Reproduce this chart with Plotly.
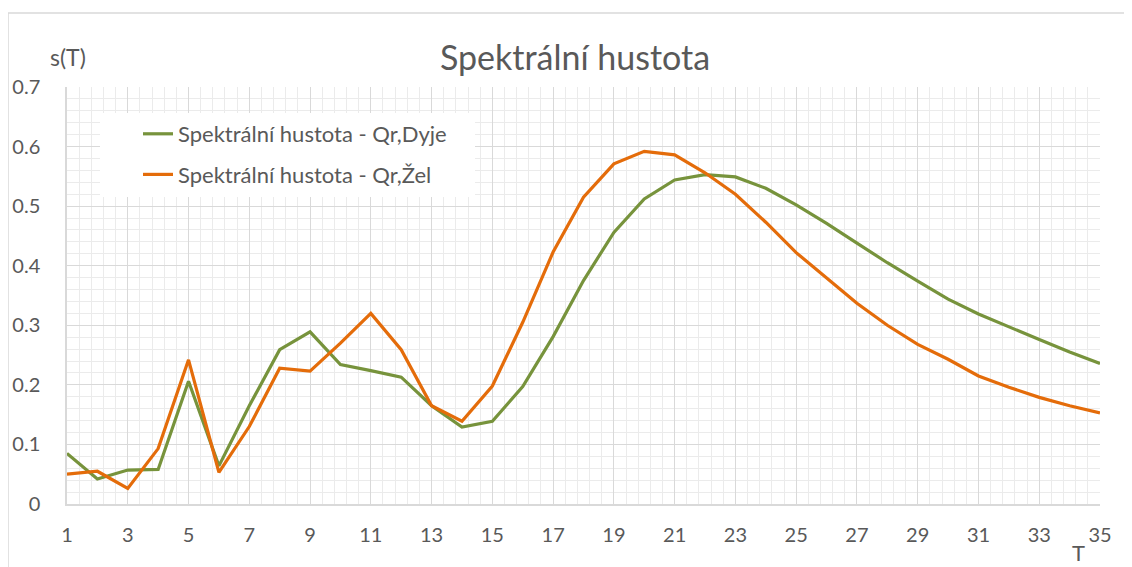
import plotly.graph_objects as go

T = list(range(1, 36))
dyje = [0.085, 0.042, 0.057, 0.058, 0.206, 0.064, 0.165, 0.259, 0.289, 0.234,
        0.224, 0.213, 0.165, 0.129, 0.139, 0.197, 0.281, 0.375, 0.456, 0.512,
        0.544, 0.553, 0.549, 0.530, 0.502, 0.471, 0.438, 0.405, 0.374, 0.344,
        0.319, 0.297, 0.276, 0.255, 0.236]
zel = [0.050, 0.055, 0.026, 0.093, 0.242, 0.053, 0.130, 0.228, 0.223, 0.270,
       0.320, 0.259, 0.165, 0.139, 0.198, 0.305, 0.423, 0.515, 0.571, 0.592,
       0.586, 0.556, 0.520, 0.473, 0.422, 0.379, 0.337, 0.300, 0.268, 0.243,
       0.215, 0.196, 0.179, 0.165, 0.153]
names = ["Spektrální hustota - Qr,Dyje", "Spektrální hustota - Qr,Žel"]
colors = ["#77933C", "#E46C0A"]
XR = [1, 35]
YR = [0, 0.7]

# page has an 8px body margin; work in reference-page pixels and shift
O = 8
W, H = 1132 - O, 567 - O
L, TOP = 67 - O, 87 - O
PR, PB = 1100 - O, 504 - O
R, B = W - PR, H - PB
pw, ph = PR - L, PB - TOP
def px(x):
    return (x - O - L) / pw
def py(y):
    return (PB - (y - O)) / ph
def dx(x):
    return XR[0] + px(x) * (XR[1] - XR[0])
def dy(y):
    return YR[0] + py(y) * (YR[1] - YR[0])

txt = "#595959"
font = "Lato, 'Open Sans', sans-serif"

fig = go.Figure()
for i, (ser, nm) in enumerate(zip([dyje, zel], names)):
    fig.add_trace(go.Scatter(x=T, y=ser, mode="lines", name=nm,
                             legendgroup=str(i),
                             line=dict(color=colors[i], width=3.2)))

fig.update_layout(
    width=W, height=H,
    margin=dict(l=L, r=R, t=TOP, b=B, autoexpand=False),
    paper_bgcolor="white", plot_bgcolor="white",
    font=dict(family=font, color=txt, size=20),
    title=dict(text="Spektrální hustota", x=(575 - O) / W, xanchor="center",
               y=1 - (58 - O) / H, yanchor="middle",
               font=dict(size=34, color=txt, family=font)),
    showlegend=True,
    legend=dict(x=px(138), y=py(113), xanchor="left", yanchor="top",
                bgcolor="rgba(255,255,255,0)", borderwidth=0, tracegroupgap=9,
                font=dict(size=22, color=txt, family=font)),
    xaxis=dict(range=XR, tick0=1, dtick=2, showgrid=True,
               gridcolor="#d9d9d9", gridwidth=1, zeroline=False,
               showline=True, linecolor="#d9d9d9", linewidth=1.5,
               ticks="", ticklabelstandoff=12, automargin=False,
               tickfont=dict(size=20, color=txt),
               minor=dict(tick0=1, dtick=0.4, showgrid=True,
                          gridcolor="#ebebeb", gridwidth=1)),
    yaxis=dict(range=YR, tick0=0, dtick=0.1, showgrid=True,
               gridcolor="#d9d9d9", gridwidth=1, zeroline=False,
               showline=True, linecolor="#d9d9d9", linewidth=1.5,
               ticks="", ticklabelstandoff=21, automargin=False,
               tickfont=dict(size=20, color=txt),
               minor=dict(tick0=0, dtick=0.02, showgrid=True,
                          gridcolor="#ebebeb", gridwidth=1)),
    annotations=[
        dict(text="s(T)", x=px(68), y=py(57), xref="paper", yref="paper",
             showarrow=False, xanchor="center", yanchor="middle",
             font=dict(size=23, color=txt)),
        dict(text="T", x=px(1078), y=py(552), xref="paper", yref="paper",
             showarrow=False, xanchor="center", yanchor="middle",
             font=dict(size=22, color=txt)),
    ],
    shapes=[
        dict(type="rect", xref="x", yref="y", layer="between",
             x0=dx(100), x1=dx(475), y0=dy(197), y1=dy(113),
             fillcolor="white", line=dict(width=0)),
        dict(type="line", xref="paper", yref="paper", x0=px(8), x1=px(1140),
             y0=py(13), y1=py(13), line=dict(color="#d9d9d9", width=1.5)),
        dict(type="line", xref="paper", yref="paper", x0=px(8), x1=px(8),
             y0=py(13), y1=py(600), line=dict(color="#d9d9d9", width=1.5)),
    ],
)

fig.write_html("out.html")
